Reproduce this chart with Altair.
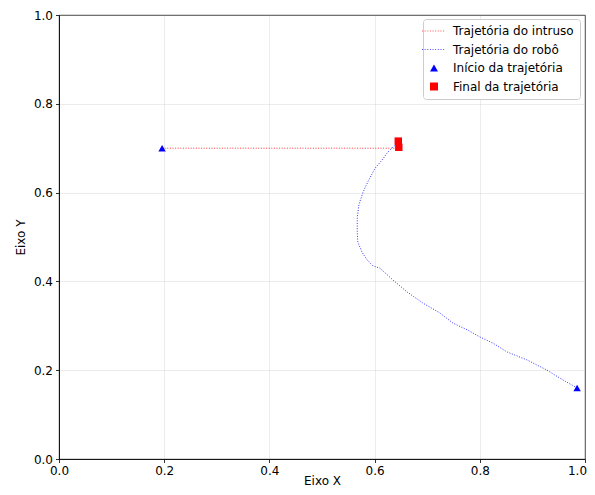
import altair as alt
import pandas as pd

# ---- data ----
intruder_x = [0.196, 0.646]
intruder_y = [0.700, 0.700]

robot_x = [0.985, 0.958, 0.928, 0.890, 0.852, 0.825, 0.800, 0.776, 0.749, 0.724,
           0.692, 0.662, 0.635, 0.610, 0.597, 0.586, 0.576, 0.568, 0.567, 0.567,
           0.570, 0.578, 0.587, 0.601, 0.614, 0.625, 0.639, 0.645]
robot_y = [0.160, 0.178, 0.200, 0.223, 0.241, 0.261, 0.275, 0.291, 0.306, 0.329,
           0.351, 0.376, 0.403, 0.430, 0.435, 0.448, 0.466, 0.489, 0.511, 0.543,
           0.572, 0.601, 0.624, 0.655, 0.673, 0.691, 0.707, 0.715]

start_x = [0.196, 0.985]
start_y = [0.700, 0.160]
end_x = [0.646, 0.645]
end_y = [0.702, 0.716]

series_names = ["Trajetória do intruso", "Trajetória do robô",
                "Início da trajetória", "Final da trajetória"]
series_colors = ["#ff5555", "#5555ff", "#0000ff", "#ff0000"]
ticks = [0.0, 0.2, 0.4, 0.6, 0.8, 1.0]


def dotted_path(half=3.0, period=0.66, dot=0.25, th=0.14):
    parts = []
    x = -half
    while x + dot <= half + 1e-9:
        parts.append(f"M{x:.3f},{-th:.3f}h{dot:.3f}v{2*th:.3f}h{-dot:.3f}z")
        x += period
    return "".join(parts)


line_glyph = dotted_path()
series_shapes = [line_glyph, line_glyph, "triangle-up", "square"]

intruder_df = pd.DataFrame({"x": intruder_x, "y": intruder_y, "i": range(len(intruder_x))})
robot_df = pd.DataFrame({"x": robot_x, "y": robot_y, "i": range(len(robot_x))})
points_df = pd.DataFrame({
    "x": start_x + end_x,
    "y": start_y + end_y,
    "serie": [series_names[2]] * len(start_x) + [series_names[3]] * len(end_x),
})

xenc = alt.X("x:Q", scale=alt.Scale(domain=[0, 1], nice=False),
             axis=alt.Axis(values=ticks, format=".1f", title="Eixo X",
                           titleY=25, titleBaseline="alphabetic",
                           labelOffset={"condition": {"test": "datum.value >= 1", "value": -8},
                                        "value": 0}))
yenc = alt.Y("y:Q", scale=alt.Scale(domain=[0, 1], nice=False),
             axis=alt.Axis(values=ticks, format=".1f", title="Eixo Y", titlePadding=6))

intruder = alt.Chart(intruder_df).mark_line(
    color="#ff0000", strokeWidth=1, strokeDash=[1, 1.6], opacity=0.8
).encode(x=xenc, y=yenc, order="i:Q")

robot = alt.Chart(robot_df).mark_line(
    color="#0000ff", strokeWidth=1, strokeDash=[1, 1.6], opacity=0.8
).encode(x=xenc, y=yenc, order="i:Q")

points = alt.Chart(points_df).mark_point(filled=True, size=55, opacity=1).encode(
    x=xenc, y=yenc,
    color=alt.Color("serie:N", scale=alt.Scale(domain=series_names, range=series_colors),
                    legend=alt.Legend(title=None)),
    shape=alt.Shape("serie:N", scale=alt.Scale(domain=series_names, range=series_shapes),
                    legend=alt.Legend(title=None)),
)

chart = alt.layer(intruder, robot, points).properties(
    width=526, height=444,
    autosize=alt.AutoSizeParams(type="none"),
    padding={"left": 51, "top": 7, "right": 2, "bottom": 28},
).configure_view(
    stroke="black", strokeWidth=0.8
).configure_axis(
    domainColor="black", domainWidth=0.8, tickColor="black", tickWidth=0.8, tickSize=3.5,
    labelFont="DejaVu Sans", labelFontSize=12, labelColor="black", labelPadding=3,
    labelFlush=False,
    titleFont="DejaVu Sans", titleFontSize=12, titleFontWeight="normal", titleColor="black",
    gridColor="#b0b0b0", gridOpacity=0.3, gridWidth=0.8,
).configure_legend(
    orient="none", legendX=364, legendY=4,
    fillColor="white", strokeColor="#cccccc", cornerRadius=3, padding=6,
    symbolSize=64, symbolOffset=-1, labelOffset=13, rowPadding=6.5,
    labelFont="DejaVu Sans", labelFontSize=12, labelColor="black",
    symbolStrokeWidth=0,
)

chart.save("out.html", embed_options={"renderer": "svg", "actions": False})
